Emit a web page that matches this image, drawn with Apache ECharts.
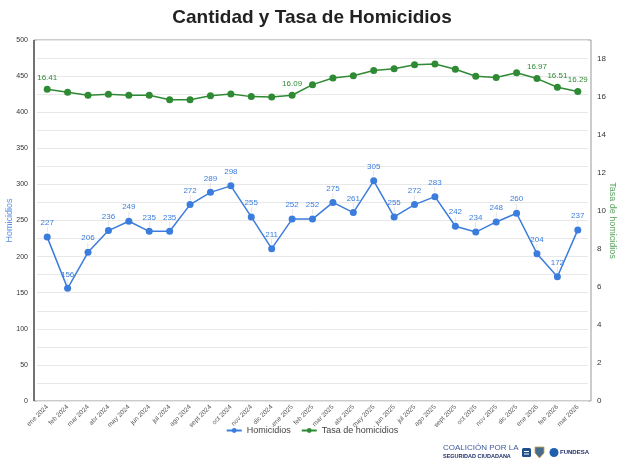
<!DOCTYPE html>
<html>
<head>
<meta charset="utf-8">
<script src="https://cdn.jsdelivr.net/npm/echarts@6/dist/echarts.min.js"></script>
<style>
  html, body { margin: 0; padding: 0; background: #fff; }
  #chart { width: 624px; height: 467px; }
</style>
</head>
<body>
<div id="chart"></div>
<script>
const meses = [
  'ene 2024', 'feb 2024', 'mar 2024', 'abr 2024', 'may 2024', 'jun 2024',
  'jul 2024', 'ago 2024', 'sept 2024', 'oct 2024', 'nov 2024', 'dic 2024',
  'ene 2025', 'feb 2025', 'mar 2025', 'abr 2025', 'may 2025', 'jun 2025',
  'jul 2025', 'ago 2025', 'sept 2025', 'oct 2025', 'nov 2025', 'dic 2025',
  'ene 2026', 'feb 2026', 'mar 2026'
]
const homicidios = [
  227, 156, 206, 236, 249, 235, 235, 272, 289, 298, 255, 211,
  252, 252, 275, 261, 305, 255, 272, 283, 242, 234, 248, 260,
  204, 172, 237
]
const tasa = [
  16.41, 16.25, 16.09, 16.14, 16.09, 16.09, 15.86, 15.86, 16.07, 16.16, 16.02, 16.0,
  16.09, 16.65, 17.0, 17.12, 17.4, 17.49, 17.7, 17.74, 17.46, 17.09, 17.03, 17.28,
  16.97, 16.51, 16.29
]
// solo estos puntos de la tasa llevan etiqueta
const tasaConEtiqueta = [0, 12, 24, 25, 26]

const AZUL = '#3b7ddd'
const VERDE = '#2f8a34'

const chart = echarts.init(document.getElementById('chart'))

chart.setOption({
  animation: false,
  title: {
    text: 'Cantidad y Tasa de Homicidios',
    left: 'center',
    top: 3,
    textStyle: { fontFamily: 'Liberation Sans', fontSize: 19, fontWeight: 'bold', color: '#222' }
  },
  legend: {
    bottom: 27,
    left: 'center',
    itemWidth: 15,
    itemHeight: 6,
    itemGap: 10,
    textStyle: { fontFamily: 'Liberation Sans', fontSize: 9, color: '#444' },
    data: ['Homicidios', 'Tasa de homicidios']
  },
  grid: { left: 37, right: 36, top: 40, bottom: 66, outerBoundsMode: 'none', containLabel: false },
  xAxis: {
    type: 'category',
    data: meses,
    boundaryGap: true,
    axisLine: { show: false },
    axisTick: { show: false },
    axisLabel: {
      rotate: 45,
      interval: 0,
      fontFamily: 'Liberation Sans',
      fontSize: 6.5,
      color: '#555',
      margin: 5
    }
  },
  yAxis: [
    {
      type: 'value',
      min: 0,
      max: 500,
      interval: 25,
      offset: 3,
      name: 'Homicidios',
      nameLocation: 'middle',
      nameGap: 20,
      nameMoveOverlap: false,
      nameTextStyle: { fontFamily: 'Liberation Sans', fontSize: 9, color: '#5b8fe3' },
      axisLine: { show: false },
      axisTick: { show: false },
      axisLabel: {
        fontFamily: 'Liberation Sans',
        fontSize: 7,
        color: '#333',
        margin: 6,
        formatter: v => (v % 50 === 0 ? String(v) : '')
      },
      splitLine: { lineStyle: { color: '#e8e8e8', width: 1 } }
    },
    {
      type: 'value',
      min: 0,
      max: 19,
      interval: 1,
      offset: 3,
      name: 'Tasa de homicidios',
      nameLocation: 'middle',
      nameGap: 17,
      nameMoveOverlap: false,
      nameRotate: -90,
      nameTextStyle: { fontFamily: 'Liberation Sans', fontSize: 9, color: '#58a35c' },
      axisLine: { show: false },
      axisTick: { show: false },
      axisLabel: {
        fontFamily: 'Liberation Sans',
        fontSize: 8,
        color: '#333',
        margin: 6,
        formatter: v => (v % 2 === 0 ? String(v) : '')
      },
      splitLine: { show: false }
    }
  ],
  graphic: [
    {
      type: 'rect',
      shape: { x: 34, y: 40, width: 557, height: 361 },
      style: { fill: 'none', stroke: '#999', lineWidth: 1 },
      z: 0
    },
    {
      type: 'line',
      shape: { x1: 34, y1: 40, x2: 34, y2: 401 },
      style: { stroke: '#555', lineWidth: 1.5 },
      z: 1
    },
    {
      type: 'text',
      left: 443, top: 444,
      style: { text: 'COALICIÓN POR LA', fontFamily: 'Liberation Sans', fontSize: 8, fill: '#3d5a9a' }
    },
    {
      type: 'text',
      left: 443, top: 453,
      style: { text: 'SEGURIDAD CIUDADANA', fontFamily: 'Liberation Sans', fontSize: 5.5, fontWeight: 'bold', fill: '#1d2f66' }
    },
    {
      type: 'rect',
      shape: { x: 522, y: 448, width: 9, height: 9, r: 1.5 },
      style: { fill: '#1f4f8a' }
    },
    {
      type: 'rect',
      shape: { x: 524, y: 451, width: 5, height: 1 },
      style: { fill: '#fff' }
    },
    {
      type: 'rect',
      shape: { x: 524, y: 453.5, width: 5, height: 1 },
      style: { fill: '#fff' }
    },
    {
      type: 'polygon',
      shape: { points: [[535, 447], [544, 447], [544, 453], [539.5, 458], [535, 453]] },
      style: { fill: '#4a6a8c', stroke: '#c8a24a', lineWidth: 0.8 }
    },
    {
      type: 'circle',
      shape: { cx: 554, cy: 452.5, r: 4.5 },
      style: { fill: '#1f5fb0' }
    },
    {
      type: 'text',
      left: 560, top: 449,
      style: { text: 'FUNDESA', fontFamily: 'Liberation Sans', fontSize: 6, fontWeight: 'bold', fill: '#1d2f66' }
    }
  ],
  series: [
    {
      name: 'Homicidios',
      type: 'line',
      yAxisIndex: 0,
      data: homicidios,
      symbol: 'circle',
      symbolSize: 7,
      itemStyle: { color: AZUL },
      lineStyle: { color: AZUL, width: 1.5 },
      label: {
        show: true,
        position: 'top',
        distance: 1,
        formatter: p => '{v|' + p.value + '}\n{t||}',
        rich: {
          v: { fontFamily: 'Liberation Sans', fontSize: 8, color: AZUL, lineHeight: 9 },
          t: { fontFamily: 'Liberation Sans', fontSize: 5, color: '#c8c8c8', lineHeight: 5 }
        }
      },
      z: 3
    },
    {
      name: 'Tasa de homicidios',
      type: 'line',
      yAxisIndex: 1,
      data: tasa.map((v, i) => ({
        value: v,
        label: { show: tasaConEtiqueta.includes(i) }
      })),
      symbol: 'circle',
      symbolSize: 7,
      itemStyle: { color: VERDE },
      lineStyle: { color: VERDE, width: 1.5 },
      label: {
        show: false,
        position: 'top',
        distance: 4,
        fontFamily: 'Liberation Sans',
        fontSize: 8,
        color: VERDE,
        formatter: p => p.value.toFixed(2)
      },
      z: 3
    }
  ]
})
</script>
</body>
</html>
